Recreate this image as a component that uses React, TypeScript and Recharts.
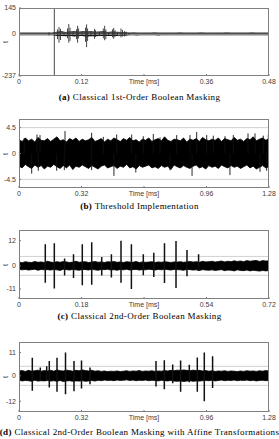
import { ComposedChart, Area, Line, XAxis, YAxis, ReferenceLine } from 'recharts';

// threshold lines drawn in every panel
const thresholds = [4.5, -4.5];

// (a) classical 1st-order boolean masking
const aTicksX = [0, 0.12, 0.24, 0.36, 0.48];
const aLabelsX = ['0', '0.12', 'Time [ms]', '0.36', '0.48'];
const aTicksY = [-237, 0, 145];
const aHi = [
  3, 2, 3, 2, 3, 3, 2, 3, 4,
  7, 9, 6, 8, 10, 7, 9, 8, 10, 7, 8, 9, 6, 8, 7, 6, 5,
  3, 4, 3, 3, 2, 3, 4, 3, 3, 2, 3, 3, 4, 3, 2, 3, 3, 4, 3, 3,
  2, 3, 3, 4, 3, 3, 3, 2, 3, 4, 3, 3, 2, 3,
];
const aLo = [
  -3, -3, -2, -3, -2, -3, -3, -2, -4,
  -8, -7, -9, -6, -10, -8, -7, -11, -8, -9, -7, -8, -7, -6, -8, -5, -6,
  -3, -3, -4, -2, -3, -3, -3, -4, -2, -3, -3, -4, -3, -3, -2, -3, -4, -3, -3, -2,
  -3, -3, -4, -3, -3, -2, -3, -3, -4, -3, -2, -3, -3, -3,
];
const aSpikeT = [
  0.0576, 0.0678, 0.0739, 0.0768, 0.0797, 0.0864, 0.0931, 0.0956, 0.0979, 0.1037, 0.1104, 0.1125,
  0.1144, 0.121, 0.1277, 0.1298, 0.1317, 0.138, 0.145, 0.1469, 0.1546, 0.1619, 0.1644, 0.1667,
  0.1718, 0.1795, 0.1818, 0.1843, 0.189, 0.1958, 0.1987, 0.2026, 0.2054, 0.2112,
];
const aSpikeHi = [8, 145, 25, 38, 28, 10, 30, 55, 35, 10, 25, 45, 30, 10, 35, 53, 30, 8, 28, 20, 10, 30, 45, 25, 8, 25, 33, 20, 8, 30, 22, 15, 12, 6];
const aSpikeLo = [-8, -237, -30, -50, -35, -10, -25, -50, -40, -8, -30, -50, -25, -10, -45, -75, -40, -8, -28, -18, -10, -25, -36, -30, -8, -20, -28, -18, -8, -20, -15, -15, -10, -6];

// (b) threshold implementation
const bTicksX = [0, 0.32, 0.64, 0.96, 1.28];
const bLabelsX = ['0', '0.32', 'Time [ms]', '0.96', '1.28'];
const bTicksY = [-4.5, 0, 4.5];
const bHi = [
  2.4, 2.1, 2.7, 2.2, 2.5, 2.0, 2.8, 2.3, 2.2, 2.6,
  2.1, 2.5, 2.9, 2.2, 2.4, 2.0, 2.6, 2.3, 2.7, 2.1,
  2.5, 2.2, 2.4, 2.8, 2.1, 2.3, 2.6, 2.0, 2.5, 2.2,
  2.7, 2.4, 2.1, 2.6, 2.3, 2.8, 2.2, 2.4, 2.0, 2.5,
  2.3, 2.7, 2.1, 2.4, 2.6, 2.2, 2.9, 2.3, 2.1, 2.5,
  2.4, 2.2, 2.7, 2.0, 2.5, 2.3, 2.6, 2.1, 2.8, 2.4,
  2.2, 2.5, 2.3, 2.7, 2.1, 2.6, 2.4, 2.2, 2.8, 2.3,
  2.5, 2.1, 2.6, 2.4, 2.9, 2.2, 2.5, 2.7, 2.3, 2.6,
];
const bLo = [
  -2.2, -2.5, -1.9, -2.3, -2.6, -2.0, -2.4, -2.1, -2.7, -2.2,
  -2.4, -1.9, -2.3, -2.6, -2.1, -2.5, -2.0, -2.8, -2.2, -2.4,
  -2.0, -2.3, -2.6, -2.1, -2.4, -2.7, -2.2, -2.0, -2.5, -2.3,
  -2.1, -2.6, -2.2, -2.4, -1.9, -2.5, -2.3, -2.7, -2.1, -2.4,
  -2.2, -2.0, -2.5, -2.3, -2.6, -2.1, -2.4, -2.2, -2.8, -2.0,
  -2.3, -2.5, -2.1, -2.4, -2.6, -2.2, -2.0, -2.5, -2.3, -2.7,
  -2.1, -2.4, -2.2, -2.6, -2.0, -2.3, -2.5, -2.1, -2.4, -2.2,
  -2.6, -2.3, -2.0, -2.5, -2.2, -2.7, -2.4, -2.1, -2.5, -2.3,
];
const bSpikeT = [
  0.027, 0.065, 0.092, 0.0988, 0.1075, 0.193, 0.232, 0.2355, 0.372, 0.4316, 0.486, 0.5, 0.577,
  0.598, 0.6364, 0.6876, 0.7219, 0.773, 0.8074, 0.8755, 0.886, 0.9098, 0.961, 0.9948, 1.0547,
  1.08, 1.0972, 1.1725, 1.2083, 1.234, 1.2508, 1.268, 1.2764,
];
const bSpikeHi = [2.7, 0, 3.3, 0, 3.2, 0, 0, 3.9, 3.6, 2.9, 0, 3.3, 3.3, 0, 3.0, 3.4, 2.8, 0, 3.2, 3.2, 0, 3.75, 3.2, 3.1, 3.0, 0, 3.2, 3.5, 3.5, 0, 3.1, 0, 3.3];
const bSpikeLo = [0, -3.5, 0, -3.0, 0, -3.0, -2.9, 0, -2.9, 0, -3.9, 0, 0, -3.3, 0, 0, 0, -2.9, 0, 0, -3.9, 0, 0, 0, 0, -3.75, 0, 0, 0, -3.2, 0, -3.0, 0];

// (c) classical 2nd-order boolean masking
const cTicksX = [0, 0.18, 0.36, 0.54, 0.72];
const cLabelsX = ['0', '0.18', 'Time [ms]', '0.54', '0.72'];
const cTicksY = [-11, 0, 12];
const cHi = [
  1.8, 1.5, 2.0, 1.7, 1.6, 2.1, 1.7, 1.9, 1.6, 2.2,
  1.8, 1.6, 2.0, 1.7, 2.1, 1.9, 1.6, 1.8, 2.2, 1.7,
  1.9, 2.0, 1.6, 1.8, 2.1, 1.7, 1.9, 1.6, 2.0, 1.8,
  2.1, 1.7, 1.9, 1.6, 2.0, 1.8, 1.7, 2.1, 1.6, 1.9,
  1.7, 1.8, 2.0, 1.6, 1.9, 1.7, 2.0, 1.8, 1.6, 1.9,
  1.8, 2.0, 1.7, 1.9, 2.1, 1.8, 2.0, 1.7, 2.2, 1.9,
  2.0, 2.2, 1.8, 2.1, 2.3, 1.9, 2.2, 2.0, 2.4, 2.1,
  2.3, 2.0, 2.5, 2.2, 2.4, 2.6, 2.1, 2.5, 2.3, 2.4,
];
const cLo = [
  -1.6, -1.9, -1.7, -2.0, -1.8, -1.6, -2.1, -1.7, -1.9, -1.8,
  -2.0, -1.7, -1.9, -2.2, -1.6, -1.8, -2.0, -1.7, -1.9, -2.1,
  -1.7, -1.8, -2.0, -1.6, -1.9, -2.1, -1.7, -1.8, -1.6, -2.0,
  -1.8, -2.1, -1.7, -1.9, -1.6, -2.0, -1.8, -1.7, -2.0, -1.8,
  -1.9, -1.6, -1.8, -2.0, -1.7, -1.9, -1.6, -1.8, -2.0, -1.7,
  -1.8, -1.9, -2.1, -1.7, -1.8, -2.0, -1.9, -2.2, -1.8, -2.0,
  -2.1, -1.9, -2.2, -2.0, -1.8, -2.3, -2.0, -2.1, -2.4, -1.9,
  -2.2, -2.3, -2.0, -2.4, -2.1, -2.3, -2.5, -2.2, -2.4, -2.2,
];
const cSpikeT = [0.0757, 0.1017, 0.1313, 0.157, 0.1823, 0.2094, 0.2382, 0.2661, 0.2938, 0.3237, 0.358, 0.3882, 0.419, 0.4522, 0.4838, 0.5172];
const cSpikeHi = [10.3, 10.8, 3.5, 5.5, 10.3, 11.3, 4.2, 5.5, 12, 10.3, 5.5, 6.2, 10.8, 11.9, 7.6, 5.5];
const cSpikeLo = [-8, -10.8, -4.6, -5.8, -9.2, -9, -4.6, -5.5, -8, -11, -4.5, -5.3, -8.2, -10.5, -5, -2.5];

// (d) classical 2nd-order boolean masking with affine transformations
const dTicksX = [0, 0.32, 0.64, 0.96, 1.28];
const dLabelsX = ['0', '0.32', 'Time [ms]', '0.96', '1.28'];
const dTicksY = [-12, 0, 11];
const dHi = [
  2.3, 2.5, 2.1, 2.6, 2.2, 2.4, 2.7, 2.2, 2.5, 2.3,
  2.6, 2.2, 2.8, 2.4, 2.3, 2.7, 2.5, 2.2, 2.6, 2.4,
  2.8, 2.5, 2.3, 2.6, 2.2, 2.4, 2.1, 2.3, 2.0, 2.2,
  2.1, 2.3, 2.0, 2.2, 2.4, 2.1, 2.3, 2.2, 2.5, 2.1,
  2.3, 2.2, 2.4, 2.1, 2.3, 2.2, 2.5, 2.3, 2.6, 2.4,
  2.7, 2.5, 2.8, 2.6, 2.4, 2.7, 2.5, 2.6, 2.3, 2.5,
  2.2, 2.4, 2.1, 2.3, 2.2, 2.4, 2.1, 2.3, 2.2, 2.0,
  2.3, 2.1, 2.4, 2.2, 2.3, 2.1, 2.4, 2.2, 2.5, 2.3,
];
const dLo = [
  -2.1, -2.4, -2.2, -2.3, -2.6, -2.1, -2.5, -2.3, -2.4, -2.2,
  -2.5, -2.3, -2.6, -2.2, -2.7, -2.4, -2.3, -2.6, -2.4, -2.5,
  -2.3, -2.6, -2.4, -2.2, -2.5, -2.1, -2.3, -2.0, -2.2, -2.1,
  -2.3, -2.0, -2.2, -2.1, -1.9, -2.2, -2.0, -2.3, -2.1, -2.2,
  -2.0, -2.3, -2.1, -2.2, -2.4, -2.1, -2.3, -2.4, -2.2, -2.5,
  -2.6, -2.4, -2.7, -2.5, -2.3, -2.6, -2.4, -2.5, -2.3, -2.2,
  -2.3, -2.1, -2.4, -2.2, -2.0, -2.3, -2.1, -2.2, -2.0, -2.3,
  -2.1, -2.2, -2.0, -2.3, -2.1, -2.4, -2.2, -2.1, -2.3, -2.2,
];
const dSpikeT = [0.0681, 0.109, 0.1418, 0.1551, 0.1946, 0.2381, 0.2816, 0.32, 0.3635, 0.7014, 0.744, 0.787, 0.8274, 0.8719, 0.9129, 0.9487, 0.9912];
const dSpikeHi = [8.5, 4, 4.5, 7, 8.5, 11, 7, 7.2, 4, 7, 7.4, 5.4, 7.3, 5.2, 8.7, 11, 9.3];
const dSpikeLo = [-7, -2.5, -2, -5.5, -7.5, -8.7, -7.3, -6, -4, -5, -6.3, -3.5, -7.5, -3, -7.5, -12, -5.8];

const tickFont = { fontSize: 7, fill: '#404040', fontFamily: 'Liberation Sans, Arial, sans-serif' };

function bandRows(hi: number[], lo: number[], tMax: number) {
  return hi.map((h, i) => ({ t: (i * tMax) / (hi.length - 1), range: [lo[i], h] }));
}

function spikeRows(ts: number[], hi: number[], lo: number[]) {
  const rows: { t: number; v: number | null }[] = [];
  ts.forEach((t, i) => {
    rows.push({ t, v: hi[i] }, { t, v: lo[i] }, { t, v: null });
  });
  return rows;
}

interface PanelProps {
  top: number;
  boxH: number;
  xTicks: number[];
  xLabels: string[];
  yTicks: number[];
  yDomain: [number, number];
  hi: number[];
  lo: number[];
  spikeT: number[];
  spikeHi: number[];
  spikeLo: number[];
  bandStroke: number;
  spikeWidth: number;
  spikeColor: string;
  captionY: number;
  tag: string;
  caption: string;
}

function Panel(p: PanelProps) {
  const tMax = p.xTicks[p.xTicks.length - 1];
  const band = bandRows(p.hi, p.lo, tMax);
  const spikes = spikeRows(p.spikeT, p.spikeHi, p.spikeLo);
  return (
    <>
      <div style={{ position: 'absolute', left: 0, top: p.top - 6 }}>
        <ComposedChart width={279} height={p.boxH + 6 + 14} margin={{ top: 6, right: 10, bottom: 0, left: 0 }}>
          <XAxis
            type="number"
            dataKey="t"
            domain={[0, tMax]}
            ticks={p.xTicks}
            interval={0}
            tickFormatter={(_v: number, i: number) => p.xLabels[i]}
            height={14}
            tickSize={-2}
            tickMargin={5}
            axisLine={false}
            tickLine={{ stroke: '#777' }}
            tick={tickFont}
            allowDataOverflow
          />
          <YAxis
            type="number"
            domain={p.yDomain}
            ticks={p.yTicks}
            interval={0}
            width={19}
            tickSize={-2}
            tickMargin={5}
            axisLine={false}
            tickLine={{ stroke: '#777' }}
            tick={tickFont}
            allowDataOverflow
          />
          {thresholds.map((y) => (
            <ReferenceLine key={y} y={y} stroke="#c4c4c4" strokeWidth={0.8} />
          ))}
          <Area
            data={band}
            dataKey="range"
            type="linear"
            stroke="#000"
            strokeWidth={p.bandStroke}
            fill="#000"
            fillOpacity={1}
            dot={false}
            activeDot={false}
            isAnimationActive={false}
          />
          <Line
            data={spikes}
            dataKey="v"
            stroke={p.spikeColor}
            strokeWidth={p.spikeWidth}
            connectNulls={false}
            dot={false}
            activeDot={false}
            isAnimationActive={false}
          />
        </ComposedChart>
      </div>
      <div
        style={{
          position: 'absolute',
          left: 19,
          top: p.top,
          width: 250,
          height: p.boxH,
          border: '1px solid #808080',
          boxSizing: 'border-box',
          pointerEvents: 'none',
        }}
      />
      <div
        style={{
          position: 'absolute',
          left: 1,
          top: p.top + p.boxH / 2 - 5,
          fontSize: 7,
          fontFamily: 'Liberation Sans, Arial, sans-serif',
          color: '#404040',
          transform: 'rotate(-90deg)',
          lineHeight: '10px',
          width: 10,
          textAlign: 'center',
        }}
      >
        t
      </div>
      <div
        style={{
          position: 'absolute',
          left: -60,
          width: 399,
          top: p.captionY - 6,
          lineHeight: '12px',
          textAlign: 'center',
          whiteSpace: 'nowrap',
          fontFamily: 'Liberation Serif, serif',
          fontSize: 9,
          letterSpacing: 0.35,
          color: '#000',
        }}
      >
        <b>{p.tag}</b> {p.caption}
      </div>
    </>
  );
}

export default function App() {
  return (
    <div
      style={{
        position: 'absolute',
        left: 0,
        top: 0,
        width: 279,
        height: 439,
        overflow: 'hidden',
        background: '#fff',
      }}
    >
      <Panel
        top={8}
        boxH={68}
        xTicks={aTicksX}
        xLabels={aLabelsX}
        yTicks={aTicksY}
        yDomain={[-237, 145]}
        hi={aHi}
        lo={aLo}
        spikeT={aSpikeT}
        spikeHi={aSpikeHi}
        spikeLo={aSpikeLo}
        bandStroke={1.7}
        spikeWidth={0.9}
        spikeColor="#333"
        captionY={96.5}
        tag="(a)"
        caption="Classical 1st-Order Boolean Masking"
      />
      <Panel
        top={119}
        boxH={69}
        xTicks={bTicksX}
        xLabels={bLabelsX}
        yTicks={bTicksY}
        yDomain={[-6, 6]}
        hi={bHi}
        lo={bLo}
        spikeT={bSpikeT}
        spikeHi={bSpikeHi}
        spikeLo={bSpikeLo}
        bandStroke={0.8}
        spikeWidth={0.9}
        spikeColor="#111"
        captionY={205.7}
        tag="(b)"
        caption="Threshold Implementation"
      />
      <Panel
        top={230}
        boxH={69}
        xTicks={cTicksX}
        xLabels={cLabelsX}
        yTicks={cTicksY}
        yDomain={[-15.8, 17.1]}
        hi={cHi}
        lo={cLo}
        spikeT={cSpikeT}
        spikeHi={cSpikeHi}
        spikeLo={cSpikeLo}
        bandStroke={0.8}
        spikeWidth={1.5}
        spikeColor="#111"
        captionY={315.7}
        tag="(c)"
        caption="Classical 2nd-Order Boolean Masking"
      />
      <Panel
        top={342}
        boxH={70}
        xTicks={dTicksX}
        xLabels={dLabelsX}
        yTicks={dTicksY}
        yDomain={[-17.1, 16]}
        hi={dHi}
        lo={dLo}
        spikeT={dSpikeT}
        spikeHi={dSpikeHi}
        spikeLo={dSpikeLo}
        bandStroke={0.8}
        spikeWidth={1.5}
        spikeColor="#111"
        captionY={432.3}
        tag="(d)"
        caption="Classical 2nd-Order Boolean Masking with Affine Transformations"
      />
    </div>
  );
}
